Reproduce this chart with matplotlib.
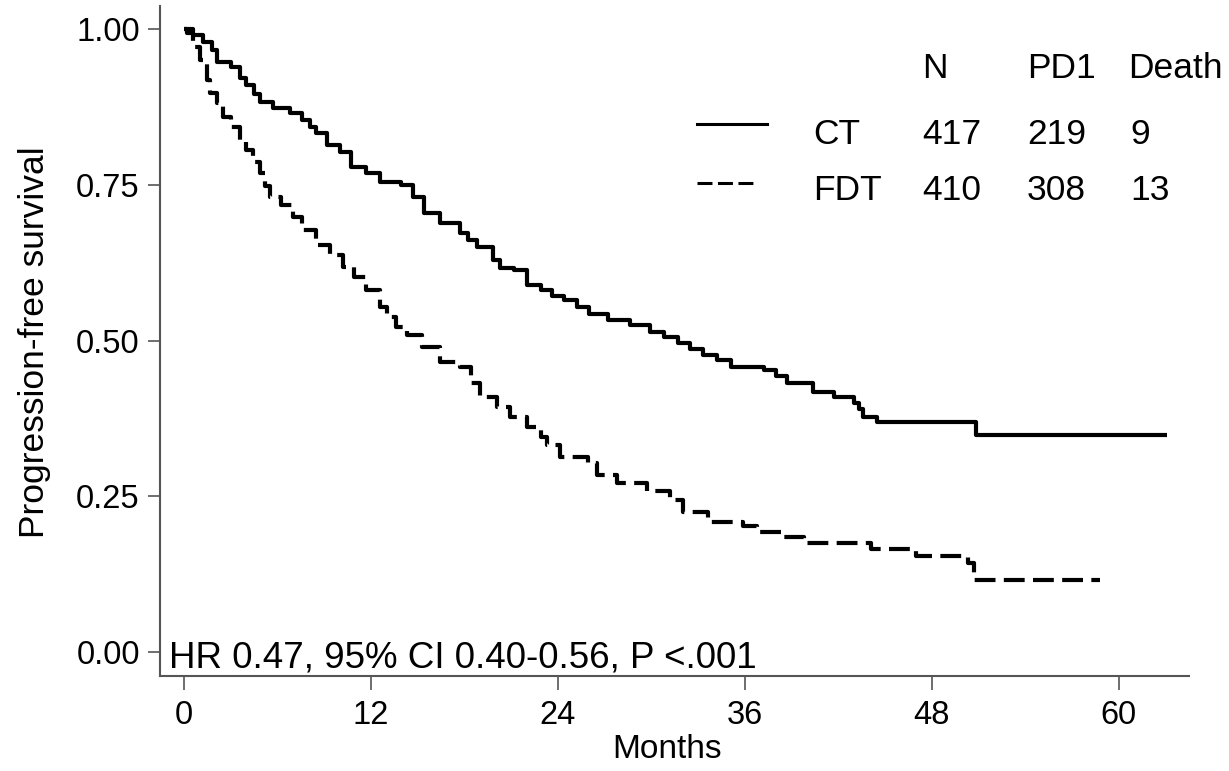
import matplotlib
matplotlib.use('Agg')
import matplotlib.pyplot as plt

plt.rcParams['font.family'] = ['Liberation Sans', 'DejaVu Sans']

# 曲线数据（从图上读取的生存率）
ct_months = [0, 0.6, 1.2, 1.8, 2.1, 3.0, 3.6, 4.0, 4.5, 4.9, 5.7, 6.8, 7.6, 8.1, 8.5,
             9.2, 10.0, 10.7, 11.7, 12.6, 13.9, 14.7, 15.4, 16.4, 17.7, 18.2, 18.8,
             19.8, 20.3, 21.2, 22.0, 22.9, 23.6, 24.4, 25.2, 26.0, 27.2, 28.6, 29.9,
             30.8, 31.7, 32.5, 33.3, 34.2, 35.1, 37.2, 38.0, 38.7, 40.4, 41.7, 43.0,
             43.3, 43.6, 44.5, 50.8, 63.1]
ct_surv = [1.0, 0.990, 0.979, 0.966, 0.947, 0.939, 0.921, 0.910, 0.895, 0.883, 0.873,
           0.865, 0.854, 0.843, 0.833, 0.814, 0.803, 0.778, 0.769, 0.754, 0.750, 0.730,
           0.705, 0.689, 0.673, 0.662, 0.650, 0.629, 0.616, 0.613, 0.589, 0.581, 0.572,
           0.565, 0.554, 0.543, 0.533, 0.525, 0.514, 0.505, 0.496, 0.487, 0.477, 0.468,
           0.457, 0.453, 0.443, 0.432, 0.417, 0.409, 0.400, 0.390, 0.377, 0.369, 0.348,
           0.348]

fdt_months = [0, 0.2, 0.6, 1.0, 1.5, 1.7, 2.1, 2.5, 3.0, 3.6, 4.0, 4.4, 4.9, 5.2, 5.5,
              6.2, 7.0, 7.6, 8.5, 9.4, 10.2, 10.9, 11.7, 12.6, 13.0, 13.6, 14.3, 15.3,
              16.4, 17.7, 18.4, 19.0, 20.1, 20.9, 22.0, 22.9, 23.3, 24.1, 25.9, 26.5,
              27.8, 29.7, 31.2, 32.0, 33.6, 35.9, 36.8, 38.5, 39.8, 44.1, 47.0, 50.3,
              50.7, 58.8]
fdt_surv = [1.0, 0.994, 0.971, 0.950, 0.918, 0.897, 0.881, 0.859, 0.843, 0.822, 0.806,
            0.787, 0.769, 0.748, 0.730, 0.717, 0.698, 0.677, 0.653, 0.637, 0.618, 0.602,
            0.581, 0.554, 0.538, 0.522, 0.509, 0.490, 0.466, 0.457, 0.432, 0.409, 0.393,
            0.377, 0.361, 0.345, 0.332, 0.313, 0.303, 0.284, 0.271, 0.258, 0.244, 0.225,
            0.209, 0.202, 0.193, 0.185, 0.175, 0.165, 0.154, 0.143, 0.116, 0.116]

x_ticks = [0, 12, 24, 36, 48, 60]
y_ticks = [0.00, 0.25, 0.50, 0.75, 1.00]

groups = ['CT', 'FDT']
n_vals = ['417', '410']
pd1_vals = ['219', '308']
death_vals = ['9', '13']

W, H = 1229, 771
fig = plt.figure(figsize=(W / 100, H / 100), dpi=100)
ax = fig.add_axes([160 / W, 1 - 676 / H, (1189 - 160) / W, (676 - 6) / H])

ax.step(ct_months, ct_surv, where='post', color='black', lw=3, solid_capstyle='butt')
ax.step(fdt_months, fdt_surv, where='post', color='black', lw=3,
        linestyle=(0, (5, 2)), dash_capstyle='butt')

ax.set_xlim(-1.54, 64.5)
ax.set_ylim(-0.0385, 1.037)
ax.set_xticks(x_ticks)
ax.set_yticks(y_ticks)
ax.set_yticklabels(['%.2f' % v for v in y_ticks])

# 只保留左边和下边的轴
ax.spines['top'].set_visible(False)
ax.spines['right'].set_visible(False)
for s in ['left', 'bottom']:
    ax.spines[s].set_color('#555555')
    ax.spines[s].set_linewidth(1.5)
ax.tick_params(axis='x', length=10, width=1.2, color='#555555', pad=7, labelsize=23.5)
ax.tick_params(axis='y', length=8.5, width=1.2, color='#555555', pad=6, labelsize=23.5)

fig.text(35 / W, 1 - 342 / H, 'Progression-free survival', rotation=90,
         ha='center', va='center', fontsize=25.5)
fig.text(667 / W, 1 - 750 / H, 'Months', ha='center', va='center', fontsize=24)
fig.text(169 / W, 1 - 667 / H, 'HR 0.47, 95% CI 0.40-0.56, P <.001',
         ha='left', va='baseline', fontsize=26.5)

# 右上角的表格式图例
fs = 25.5
fig.text(922 / W, 1 - 69 / H, 'N', ha='left', va='center', fontsize=fs)
fig.text(1027 / W, 1 - 69 / H, 'PD1', ha='left', va='center', fontsize=fs)
fig.text(1128 / W, 1 - 69 / H, 'Death', ha='left', va='center', fontsize=fs)
row_y = [135, 190]
line_y = [124, 183]
for i in range(2):
    yy = 1 - row_y[i] / H
    fig.text(813 / W, yy, groups[i], ha='left', va='center', fontsize=fs)
    fig.text(922 / W, yy, n_vals[i], ha='left', va='center', fontsize=fs)
    fig.text(1027 / W, yy, pd1_vals[i], ha='left', va='center', fontsize=fs)
    fig.text(1130 / W, yy, death_vals[i], ha='left', va='center', fontsize=fs)
ly = 1 - line_y[0] / H
fig.add_artist(plt.Line2D([697 / W, 767 / W], [ly, ly], color='black', lw=2.2))
ly = 1 - line_y[1] / H
fig.add_artist(plt.Line2D([697 / W, 753 / W], [ly, ly], color='black', lw=2.2,
                          linestyle=(0, (4.9, 1.8)), dash_capstyle='butt'))

fig.savefig('out.png', dpi=100)
